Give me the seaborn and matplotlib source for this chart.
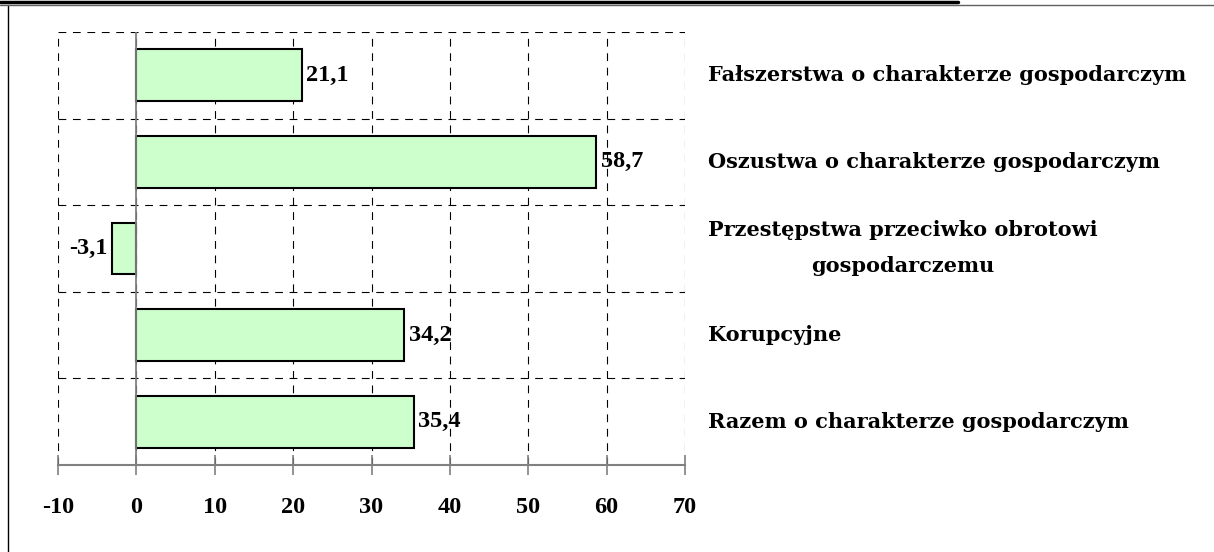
import matplotlib
matplotlib.use("Agg")
import matplotlib.pyplot as plt
import seaborn as sns
from matplotlib.lines import Line2D
from matplotlib.transforms import blended_transform_factory

categories = [
    "Fałszerstwa o charakterze gospodarczym",
    "Oszustwa o charakterze gospodarczym",
    "Przestępstwa przeciwko obrotowi\ngospodarczemu",
    "Korupcyjne",
    "Razem o charakterze gospodarczym",
]
values = [21.1, 58.7, -3.1, 34.2, 35.4]
x_ticks = [-10, 0, 10, 20, 30, 40, 50, 60, 70]

sns.set_style("white")
plt.rcParams['font.family'] = ['Liberation Serif', 'DejaVu Serif']
plt.rcParams['text.color'] = 'black'
plt.rcParams['xtick.color'] = 'black'

W, H = 1214, 552
fig = plt.figure(figsize=(W / 100, H / 100), dpi=100)
ax = fig.add_axes([58 / W, 1 - 465 / H, (685 - 58) / W, (465 - 32) / H])

sns.barplot(x=values, y=list(range(len(categories))), orient='h', ax=ax,
            color='#CCFFCC', edgecolor='black', linewidth=1.5, width=0.6,
            saturation=1)
ax.set_xlim(-10, 70)
ax.set_ylim(4.5, -0.5)

# grid
ax.set_xticks(x_ticks)
ax.set_xticklabels([str(t) for t in x_ticks], fontsize=17.5, fontweight='bold')
ax.set_yticks([])
for t in x_ticks:
    ax.axvline(t, color='black', lw=0.8, ls=(0, (7, 6)), zorder=0)
for yb in [-0.5, 0.5, 1.5, 2.5, 3.5]:
    ax.axhline(yb, color='black', lw=0.8, ls=(0, (7, 6)), zorder=0)
ax.axvline(0, color='#808080', lw=1.3, zorder=1)

for s in ['top', 'left', 'right']:
    ax.spines[s].set_visible(False)
ax.spines['bottom'].set_color('#808080')
ax.spines['bottom'].set_linewidth(1.5)
ax.tick_params(axis='x', bottom=True, direction='inout', length=14, width=1.2,
               color='#808080', labelcolor='black', pad=16)
ax.set_xlabel('')
ax.set_ylabel('')

# value labels
for i, v in enumerate(values):
    txt = f"{v:.1f}".replace('.', ',')
    if v >= 0:
        ax.annotate(txt, (v, i), xytext=(3, 0), textcoords='offset points',
                    ha='left', va='center', fontsize=17.5, fontweight='bold')
    else:
        ax.annotate(txt, (v, i), xytext=(-3, 0), textcoords='offset points',
                    ha='right', va='center', fontsize=17.5, fontweight='bold')

# category labels on the right
tr = blended_transform_factory(ax.transAxes, ax.transData)
for i, c in enumerate(categories):
    ax.text((708 - 58) / (685 - 58), i, c, transform=tr, ha='left',
            va='center', multialignment='center', fontsize=15,
            fontweight='bold', family='DejaVu Serif', linespacing=2.0)

# frame lines
fig.add_artist(Line2D([8 / W, 8 / W], [0, 1 - 5 / H], color='black', lw=1))
fig.add_artist(Line2D([0, 1], [1 - 5 / H, 1 - 5 / H], color='#606060', lw=1))
fig.add_artist(Line2D([0, 958 / W], [1 - 1.5 / H, 1 - 1.5 / H],
                      color='black', lw=2.5))

fig.savefig("out.png", dpi=100)
